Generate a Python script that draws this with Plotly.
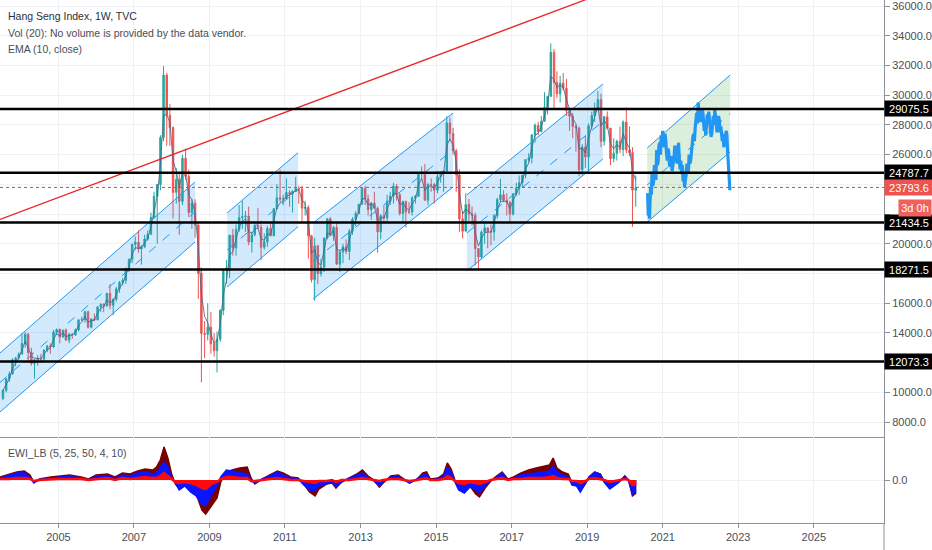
import numpy as np
import pandas as pd
import plotly.graph_objects as go
from plotly.subplots import make_subplots

# ---------------- data ----------------
first_month = "2003-07-01"
first_open = 9577
closes = [10134, 10909, 11230, 12190, 12317, 12576,
          13289, 13908, 12682, 11942, 12198, 12286, 12239, 12850, 13120, 13055, 14060, 14230,
          13722, 14195, 13516, 13909, 13868, 14201, 14880, 14904, 15429, 14386, 14937, 14876,
          15753, 15919, 15805, 16661, 15857, 16267, 16971, 17392, 17543, 18324, 18960, 19965,
          20106, 19651, 19800, 20318, 20634, 21773, 23184, 23984, 27142, 31352, 28643, 27812,
          23456, 24331, 22849, 25755, 24533, 22102, 22731, 21261, 18016, 13969, 13888, 14387,
          13278, 12811, 13576, 15521, 18171, 18378, 20573, 19724, 20955, 21752, 21821, 21872,
          20122, 20608, 21239, 21108, 19765, 20128, 21029, 20536, 22358, 23096, 23007, 23035,
          23447, 23338, 23527, 23720, 23684, 22398, 22440, 20534, 17592, 19864, 17989, 18434,
          20390, 21680, 20556, 21094, 18629, 19441, 19796, 19482, 20840, 21641, 22030, 22657,
          23729, 23020, 22300, 22737, 22392, 20803, 21883, 21731, 22860, 23206, 23881, 23306,
          22035, 22837, 22151, 22134, 23082, 23191, 24757, 24742, 22933, 23998, 23987, 23605,
          24507, 24823, 24901, 28133, 27424, 26250, 24636, 21670, 20846, 22640, 21996, 21914,
          19683, 19112, 20777, 21067, 20815, 20794, 21891, 22977, 23297, 22935, 22790, 22001,
          23361, 23741, 24112, 24615, 25661, 25765, 27324, 27970, 27554, 28246, 29177, 29919,
          32887, 30845, 30093, 30808, 30469, 28955, 28583, 27889, 27789, 24980, 26507, 25846,
          27942, 28633, 29051, 29699, 26901, 28543, 27778, 25725, 26092, 26906, 26346, 28190,
          26313, 26130, 23603, 23793.6]
highs = [10200, 10950, 11400, 12300, 12400, 12700,
         14000, 14058, 14000, 13000, 12200, 12500, 12600, 12900, 13200, 13300, 14200, 14300,
         14300, 14200, 14300, 14000, 14000, 14300, 14900, 15100, 15500, 15500, 15000, 15300,
         15800, 16000, 16000, 16700, 17300, 16300, 17100, 17500, 17700, 18400, 19000, 20000,
         20500, 20900, 19900, 20600, 20900, 22100, 23500, 24000, 27300, 31958, 31500, 29400,
         27900, 25100, 24700, 26000, 26400, 25000, 23000, 23000, 21500, 18400, 14800, 16000,
         15400, 14000, 14100, 15600, 18300, 18900, 20600, 21000, 21300, 22600, 22900, 22200,
         22500, 20800, 21400, 22400, 21300, 20700, 21200, 21400, 22400, 24000, 24990, 23300,
         24400, 23600, 23600, 24500, 23900, 23900, 22900, 22600, 20600, 20400, 19900, 19000,
         20400, 21700, 21800, 21200, 21400, 19600, 20000, 20300, 21000, 21800, 22200, 22700,
         23800, 23900, 23300, 22800, 23500, 22500, 22000, 22600, 23300, 23500, 24100, 24000,
         23400, 22900, 22900, 22800, 23200, 23300, 24800, 25200, 25362, 24100, 24400, 24100,
         24900, 24900, 24900, 28588, 28500, 27800, 26400, 25000, 22200, 23400, 23000, 22500,
         22100, 19700, 20900, 21500, 21100, 21300, 22000, 23100, 24364, 23600, 23400, 22900,
         23400, 24100, 24600, 24600, 25700, 26100, 27400, 28100, 28200, 28600, 30200, 29700,
         33484, 33100, 31600, 31300, 31500, 31100, 29000, 28800, 28000, 27900, 26700, 27300,
         28100, 28900, 29500, 30280, 30100, 28600, 28900, 27800, 27100, 27000, 27900, 28300,
         29175, 27900, 26500, 24600]
lows = [9500, 10000, 10700, 11200, 11750, 12200,
        12600, 13000, 12000, 11800, 10917, 11800, 12000, 12100, 12700, 12600, 13000, 13900,
        13300, 13700, 13500, 13300, 13600, 13800, 14100, 14800, 14700, 14300, 14300, 14800,
        14900, 15400, 15400, 15800, 15600, 15200, 16100, 16700, 17200, 17300, 18100, 18700,
        19600, 19400, 18600, 19700, 20200, 20600, 21700, 20000, 23600, 26900, 26600, 26600,
        21700, 22700, 20600, 22600, 24300, 21800, 21000, 20400, 16300, 10676, 12300, 13500,
        12600, 12400, 11344, 13400, 15200, 17300, 17700, 19200, 19200, 20800, 21000, 20800,
        19900, 19400, 20500, 21000, 18900, 19600, 19800, 20500, 20500, 22400, 22800, 22600,
        23300, 22500, 22100, 23500, 22700, 21500, 21900, 19000, 17400, 16170, 17300, 17800,
        18100, 20300, 20500, 20200, 18600, 18100, 18700, 19300, 18900, 20600, 21200, 22000,
        22700, 22600, 21900, 21600, 22400, 19400, 20300, 21500, 21500, 22600, 22700, 22900,
        21900, 21400, 21100, 22000, 21900, 22700, 23200, 24300, 22900, 22600, 23500, 22700,
        23400, 24100, 23500, 24800, 26900, 26000, 23500, 20800, 20368, 20900, 21500, 21200,
        18534, 18300, 19000, 20000, 19700, 19900, 20200, 21700, 22800, 22800, 21900, 21500,
        21900, 23200, 23300, 23800, 24400, 25500, 25400, 26800, 27300, 27500, 28200, 28700,
        29900, 29100, 29800, 29500, 30300, 28600, 27600, 27100, 26200, 24540, 24600, 25100,
        24900, 27700, 28200, 29200, 26500, 26600, 27700, 25300, 25500, 25600, 26100, 25900,
        26100, 25900, 21139, 22500]

# horizontal support / resistance levels
levels = [29075.5, 24787.7, 21434.5, 18271.5, 12073.3]
last_price = 23793.6
countdown_text = "3d 0h"

# red trend line (decimal year, price)
trend_years = [2003.456, 2019.87]
trend_prices = [21646, 37292]

# parallel channels: (start year, end year, upper start, upper end, lower start, lower end)
channels_blue = [
    (2003.456, 2008.619, 12650, 24157, 8680, 20120),
    (2009.467, 2011.347, 22071, 26128, 17092, 21149),
    (2011.745, 2015.451, 21398, 28800, 16284, 23820),
    (2015.816, 2019.417, 23282, 30751, 18168, 25705),
]
channel_green = (2020.590, 2022.787, 26445, 31357, 21465, 26176)

# projected (bars pattern) path
proj_years = [2020.60, 2020.62, 2020.63, 2020.65, 2020.68, 2020.70, 2020.72, 2020.74, 2020.76,
              2020.78, 2020.80, 2020.82, 2020.84, 2020.86, 2020.88, 2020.90, 2020.92, 2020.94,
              2020.96, 2020.98, 2021.00, 2021.02, 2021.04, 2021.06, 2021.08, 2021.10, 2021.12,
              2021.14, 2021.16, 2021.18, 2021.20, 2021.22, 2021.25, 2021.28, 2021.30, 2021.32,
              2021.34, 2021.36, 2021.38, 2021.40, 2021.42, 2021.44, 2021.46, 2021.48, 2021.50,
              2021.52, 2021.54, 2021.56, 2021.58, 2021.60, 2021.62, 2021.64, 2021.66, 2021.68,
              2021.70, 2021.72, 2021.74, 2021.76, 2021.78, 2021.80, 2021.82, 2021.84, 2021.86,
              2021.88, 2021.90, 2021.92, 2021.94, 2021.96, 2021.98, 2022.00, 2022.02, 2022.04,
              2022.06, 2022.08, 2022.10, 2022.12, 2022.14, 2022.16, 2022.18, 2022.20, 2022.22,
              2022.24, 2022.26, 2022.28, 2022.30, 2022.32, 2022.34, 2022.36, 2022.38, 2022.40,
              2022.42, 2022.44, 2022.46, 2022.48, 2022.50, 2022.52, 2022.54, 2022.56, 2022.58,
              2022.60, 2022.62, 2022.64, 2022.66, 2022.68, 2022.70, 2022.72, 2022.74, 2022.76,
              2022.78]
proj_prices = [23400, 21900, 22400, 21700, 23800, 23300, 24800, 23900, 24200,
               25300, 25000, 24300, 26300, 25300, 25500, 26600, 26800, 26000,
               27300, 26700, 27600, 26900, 26500, 27400, 27000, 26100, 25600,
               26400, 26200, 25300, 25200, 25900, 24900, 25500, 25800, 26600,
               26200, 25600, 25400, 26300, 26800, 25700, 25000, 25600, 24700,
               25300, 24200, 24700, 23800, 24300, 24600, 25400, 25200, 24800,
               26000, 25400, 25600, 26300, 26500, 27200, 27400, 26900, 27800,
               28600, 28800, 28100, 29500, 28800, 28900, 28200, 28400, 29000,
               28900, 28300, 27600, 28100, 27300, 28000, 28700, 28200, 28900,
               28300, 27900, 27200, 27400, 28200, 28600, 28000, 29000, 28600,
               28100, 27500, 27800, 28600, 28300, 27500, 27900, 27200, 26900,
               27400, 26500, 26900, 27100, 27600, 27300, 26200, 25000, 24400,
               23600]

# EWI_LB oscillator (three filled series)
osc_years = [2003.46, 2003.7, 2003.9, 2004.1, 2004.25, 2004.35, 2004.5, 2004.8, 2005.0, 2005.3,
             2005.6, 2005.8, 2006.0, 2006.3, 2006.5, 2006.7, 2006.9, 2007.1, 2007.3, 2007.5,
             2007.6, 2007.7, 2007.8, 2007.9, 2008.0, 2008.1, 2008.2, 2008.35, 2008.5, 2008.65,
             2008.8, 2008.9, 2009.05, 2009.2, 2009.3, 2009.45, 2009.6, 2009.8, 2010.0, 2010.1,
             2010.2, 2010.4, 2010.6, 2010.8, 2010.95, 2011.15, 2011.35, 2011.5, 2011.65, 2011.8,
             2011.9, 2012.1, 2012.25, 2012.35, 2012.5, 2012.7, 2012.9, 2013.05, 2013.2, 2013.35,
             2013.5, 2013.6, 2013.8, 2014.0, 2014.15, 2014.3, 2014.5, 2014.65, 2014.75, 2014.85,
             2015.05, 2015.2, 2015.3, 2015.4, 2015.5, 2015.6, 2015.75, 2015.9, 2016.05, 2016.15,
             2016.3, 2016.45, 2016.6, 2016.75, 2016.9, 2017.05, 2017.25, 2017.45, 2017.65, 2017.85,
             2018.0, 2018.1, 2018.2, 2018.35, 2018.5, 2018.6, 2018.72, 2018.82, 2018.95, 2019.05,
             2019.2, 2019.35, 2019.45, 2019.6, 2019.75, 2019.85, 2020.0, 2020.1, 2020.2, 2020.3]
osc_maroon = [3, 6, 8, 9, 5, -2, 1, 3, 4, 5,
              3, 1, 5, 6, 3, 7, 6, 9, 11, 10,
              13, 20, 33, 22, 6, -4, -9, -5, -9, -14,
              -30, -34, -26, -18, -2, 8, 10, 12, 13, 2,
              -4, 1, 5, 9, 7, 3, 2, -4, -12, -16,
              -9, -4, -3, -8, -2, 2, 6, 10, 4, 0,
              -7, -3, 4, 5, 1, -3, 1, 7, 8, 1,
              2, 6, 17, 11, 0, -8, -12, -6, -14, -17,
              -8, -1, 4, 8, 1, 3, 7, 10, 12, 14,
              15, 22, 12, 8, 6, -3, -5, -11, -4, 3,
              8, 6, -1, -8, -4, -2, 4, 0, -16, -13]
osc_blue = [2, 5, 7, 7, 3, -3, 0.5, 2, 3, 4,
            2, 0, 4, 4, 2, 5, 4, 7, 8, 6,
            7, 12, 18, 13, 2, -3, -10, -6, -12, -16,
            -24, -26, -15, -6, 3, 10, 9, 8, 6, -1,
            -3, 1, 4, 8, 5, 2, 1, -5, -10, -11,
            -6, -4, -2, -7, -2, 2, 5, 7, 3, -1,
            -6, -2, 3, 4, 0, -3, 1, 5, 6, 0,
            1, 4, 13, 8, -2, -10, -13, -7, -10, -13,
            -6, -1, 3, 7, 0, 2, 5, 6, 7, 8,
            9, 14, 8, 5, 3, -5, -6, -12, -4, 3,
            8, 6, -2, -9, -5, -2, 4, -1, -14, -11]
osc_red = [1, 1, 2, 2, 1, -1, 0, 1, 1, 1,
           1, 0, 1, 2, 0, 2, 1, 2, 3, 2,
           2, 4, 7, 4, 1, -2, -3, -2, -3, -5,
           -8, -9, -4, -2, 1, 3, 3, 2, 2, -1,
           -1, 0, 1, 2, 1, 0, 0, -1, -2, -3,
           -1, -1, 0, -2, 0, 0, 1, 2, 1, 0,
           -1, 0, 1, 1, 0, -1, 0, 1, 2, 0,
           0, 1, 4, 2, -1, -3, -4, -2, -3, -4,
           -2, 0, 1, 2, 0, 1, 1, 2, 2, 2,
           3, 4, 2, 1, 1, -1, -1, -3, -1, 1,
           2, 1, 0, -2, -1, 0, 1, 0, -5, -4]

year_ticks = [2005, 2007, 2009, 2011, 2013, 2015, 2017, 2019, 2021, 2023, 2025]
price_ticks = list(range(8000, 36001, 2000))
hidden_price_labels = [12000, 18000, 22000, 24000]   # covered by the level tags in the reference
x_start, x_end = 2003.456, 2026.86
price_range = [6998, 36404]
osc_range = [-43, 43]


# ---------------- helpers ----------------
def dy(v):
    y = int(np.floor(v))
    a = pd.Timestamp(year=y, month=1, day=1)
    b = pd.Timestamp(year=y + 1, month=1, day=1)
    return a + (b - a) * (v - y)


def dys(vals):
    return [dy(v) for v in vals]


months = pd.date_range(first_month, periods=len(closes), freq="MS") + pd.Timedelta(days=14)
opens = [first_open] + closes[:-1]
highs_c = [max(h, o, c) for h, o, c in zip(highs, opens, closes)]
lows_c = [min(l, o, c) for l, o, c in zip(lows, opens, closes)]
ema = pd.Series(closes).ewm(alpha=0.55, adjust=False).mean()

GRID = "#eef1f6"
AXIS = "#8d919a"
TXT = "#4a4e57"
FONT = "Liberation Sans"

fig = make_subplots(rows=2, cols=1, shared_xaxes=True, vertical_spacing=0,
                    row_heights=[437, 86])


def add_channel(ch, fill, line):
    x0, x1, u0, u1, l0, l1 = ch
    X = [dy(x0), dy(x1), dy(x1), dy(x0), dy(x0)]
    fig.add_trace(go.Scatter(x=X, y=[u0, u1, l1, l0, u0], fill="toself", fillcolor=fill,
                             line=dict(width=0), mode="lines", hoverinfo="skip"), row=1, col=1)
    return (X, u0, u1, l0, l1, line)


chan_lines = []
for ch in channels_blue:
    chan_lines.append(add_channel(ch, "rgba(33,150,243,0.20)", "#2196F3"))
chan_lines.append(add_channel(channel_green, "rgba(76,175,80,0.20)", "#2196F3"))

fig.add_trace(go.Candlestick(
    x=months, open=opens, high=highs_c, low=lows_c, close=closes,
    increasing=dict(line=dict(color="#26a69a", width=1), fillcolor="#26a69a"),
    decreasing=dict(line=dict(color="#ef5350", width=1), fillcolor="#ef5350"),
    whiskerwidth=0, hoverinfo="skip"), row=1, col=1)

fig.add_trace(go.Scatter(x=months, y=ema, mode="lines",
                         line=dict(color="rgba(70,100,140,0.85)", width=1)), row=1, col=1)

for X, u0, u1, l0, l1, col in chan_lines:
    fig.add_trace(go.Scatter(x=[X[0], X[1]], y=[u0, u1], mode="lines",
                             line=dict(color=col, width=1)), row=1, col=1)
    fig.add_trace(go.Scatter(x=[X[0], X[1]], y=[l0, l1], mode="lines",
                             line=dict(color=col, width=1)), row=1, col=1)
    fig.add_trace(go.Scatter(x=[X[0], X[1]], y=[(u0 + l0) / 2, (u1 + l1) / 2], mode="lines",
                             line=dict(color=col, width=1, dash="dash")), row=1, col=1)

fig.add_trace(go.Scatter(x=dys(proj_years), y=proj_prices, mode="lines",
                         line=dict(color="#2196F3", width=3.2)), row=1, col=1)

fig.add_trace(go.Scatter(x=dys(trend_years), y=trend_prices, mode="lines",
                         line=dict(color="#e8262b", width=1.3)), row=1, col=1)

ox = dys(osc_years)
fig.add_trace(go.Scatter(x=ox, y=osc_maroon, mode="lines", fill="tozeroy",
                         fillcolor="#7a0000", line=dict(color="#7a0000", width=1.5)), row=2, col=1)
fig.add_trace(go.Scatter(x=ox, y=osc_blue, mode="lines", fill="tozeroy",
                         fillcolor="#0a14ff", line=dict(color="#0a14ff", width=1.5)), row=2, col=1)
fig.add_trace(go.Scatter(x=ox, y=osc_red, mode="lines", fill="tozeroy",
                         fillcolor="#ff0a0a", line=dict(color="#ff0a0a", width=2.5)), row=2, col=1)

# shapes: levels, last price line
shapes = []
for lv in levels:
    shapes.append(dict(type="line", xref="x domain", yref="y", x0=0, x1=1, y0=lv, y1=lv,
                       line=dict(color="#000000", width=2.5)))
shapes.append(dict(type="line", xref="x domain", yref="y", x0=0, x1=1, y0=last_price,
                   y1=last_price, line=dict(color="#ef3b3b", width=1, dash="dot")))
shapes.append(dict(type="line", xref="paper", yref="paper", x0=1, x1=1, y0=-27 / 523, y1=0,
                   line=dict(color=AXIS, width=1)))

annotations = []
for lv in levels:
    annotations.append(dict(xref="paper", yref="y", x=1, y=lv, xanchor="left", yanchor="middle",
                            text=f"{lv:.1f}", showarrow=False, bgcolor="#000000",
                            font=dict(color="white", size=11, family=FONT),
                            width=46, height=13, borderpad=1, align="center"))
annotations.append(dict(xref="paper", yref="y", x=1, y=last_price, xanchor="left",
                        yanchor="middle", text=f"{last_price:.1f}", showarrow=False,
                        bgcolor="#ef5350", font=dict(color="white", size=11, family=FONT),
                        width=46, height=13, borderpad=1, align="center"))
annotations.append(dict(xref="paper", yref="paper", x=932 / 884, y=1 - 208 / 523,
                        xanchor="right", yanchor="middle", text=countdown_text, showarrow=False,
                        bgcolor="#f0605e", font=dict(color="white", size=11, family=FONT),
                        width=30, height=14, borderpad=1, align="center"))

legend_lines = [("Hang Seng Index, 1W, TVC", 15.7, "#2a2e39"),
                ("Vol (20): No volume is provided by the data vendor.", 32.5, "#4a4e57"),
                ("EMA (10, close)", 49, "#4a4e57")]
for t, ypx, c in legend_lines:
    annotations.append(dict(xref="paper", yref="paper", x=6 / 884, y=1 - ypx / 523,
                            xanchor="left", yanchor="middle", text=t, showarrow=False,
                            font=dict(color=c, size=10.5, family=FONT)))
annotations.append(dict(xref="paper", yref="paper", x=6 / 884, y=1 - 453 / 523,
                        xanchor="left", yanchor="middle", text="EWI_LB (5, 25, 50, 4, 10)",
                        showarrow=False, font=dict(color="#4a4e57", size=10.5, family=FONT)))

xr = [dy(x_start), dy(x_end)]
tv = [pd.Timestamp(year=y, month=1, day=1) for y in year_ticks]
tt = [str(y) for y in year_ticks]
ptt = ["" if p in hidden_price_labels else f"{p:.1f}" for p in price_ticks]

fig.update_layout(
    width=932, height=550, margin=dict(l=0, r=48, t=0, b=27),
    paper_bgcolor="white", plot_bgcolor="white", showlegend=False,
    shapes=shapes, annotations=annotations,
    font=dict(family=FONT, size=11, color=TXT),
    xaxis=dict(range=xr, tickvals=tv, ticktext=tt, showticklabels=False, showgrid=True,
               gridcolor=GRID, showline=True, linecolor=AXIS, linewidth=1,
               rangeslider=dict(visible=False), zeroline=False),
    xaxis2=dict(range=xr, tickvals=tv, ticktext=tt, showgrid=True, gridcolor=GRID,
                showline=True, linecolor=AXIS, linewidth=1, ticks="outside", ticklen=4,
                tickcolor=AXIS, tickfont=dict(size=11, color=TXT, family=FONT),
                rangeslider=dict(visible=False), zeroline=False),
    yaxis=dict(side="right", range=price_range, tickvals=price_ticks, ticktext=ptt,
               showgrid=True, gridcolor=GRID, showline=True, linecolor=AXIS, ticks="outside",
               ticklen=5, tickcolor=AXIS, zeroline=False, ticklabeloverflow="allow",
               tickfont=dict(size=11, color=TXT, family=FONT)),
    yaxis2=dict(side="right", range=osc_range, tickvals=[0], ticktext=["0.0"], showgrid=True,
                gridcolor=GRID, showline=True, linecolor=AXIS, ticks="outside", ticklen=5,
                tickcolor=AXIS, zeroline=False, tickfont=dict(size=11, color=TXT, family=FONT)),
)

fig.write_html("out.html", config={"displayModeBar": False},
               post_script="document.body.style.margin='0';document.body.style.overflow='hidden';")
